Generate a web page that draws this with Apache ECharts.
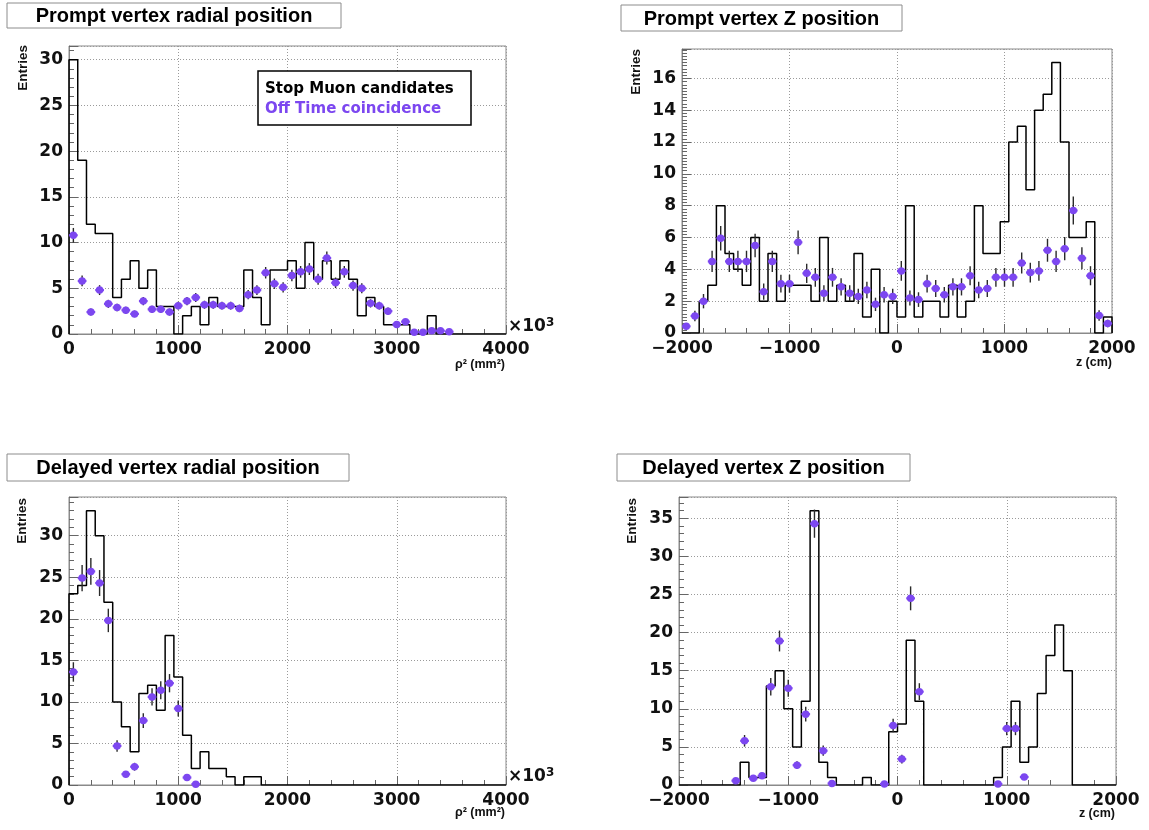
<!DOCTYPE html>
<html><head><meta charset="utf-8">
<script src="https://cdn.jsdelivr.net/npm/echarts@6/dist/echarts.min.js"></script>
<style>html,body{margin:0;padding:0;background:#fff}#c{width:1149px;height:830px}</style>
</head><body><div id="c"></div>
<script>
// ---------------- DATA ----------------
const RHO_BIN_START = 0, RHO_BIN_WIDTH = 80;      // rho^2 (x10^3 mm^2), 50 bins 0..4000
const Z_BIN_START = -2000, Z_BIN_WIDTH = 80;      // z (cm), 50 bins -2000..2000

const titles = ['Prompt vertex radial position', 'Prompt vertex Z position',
                'Delayed vertex radial position', 'Delayed vertex Z position'];
const legendLabels = ['Stop Muon candidates', 'Off Time coincidence'];
const rhoTickLabels = [0, 1000, 2000, 3000, 4000];
const zTickLabels = [-2000, -1000, 0, 1000, 2000];

// Prompt vertex radial position
const promptRhoStopMuon = [30,19,12,11,11,4,6,8,5,7, 3,3,0,2,3,1,4,3,3,3, 7,4,1,7,7,8,5,10,6,8, 6,8,6,2,4,3,1,1,1,0, 0,2,0,0,0,0,0,0,0,0];
const promptRhoOffTime  = [10.8,5.8,2.4,4.8,3.3,2.9,2.6,2.2,3.6,2.7, 2.7,2.4,3.1,3.6,4.0,3.2,3.2,3.1,3.1,2.8, 4.3,4.8,6.7,5.5,5.1,6.4,6.8,7.1,6.0,8.3, 5.6,6.8,5.3,5.0,3.35,3.1,2.5,1.05,1.35,0.2, 0.2,0.36,0.36,0.25,null,null,null,null,null,null];
const promptRhoOffTimeErr = [0.80,0.59,0.38,0.54,0.44,0.42,0.39,0.36,0.46,0.40, 0.40,0.38,0.43,0.46,0.49,0.44,0.44,0.43,0.43,0.41, 0.51,0.54,0.63,0.57,0.55,0.62,0.64,0.65,0.60,0.71, 0.58,0.64,0.56,0.55,0.45,0.43,0.39,0.25,0.28,0.11, 0.11,0.15,0.15,0.12,null,null,null,null,null,null];

// Prompt vertex Z position
const promptZStopMuon = [0,0,2,3,8,5,4,3,6,2, 5,2,3,3,3,2,6,2,3,2, 5,1,4,0,2,1,8,1,2,2, 1,3,1,2,8,5,5,7,12,13, 9,14,15,17,12,6,6,7,0,1];
const promptZOffTime  = [0.42,1.07,2.0,4.5,5.96,4.5,4.5,4.5,5.5,2.6, 4.5,3.1,3.1,5.7,3.75,3.5,2.5,3.5,2.9,2.5, 2.3,2.7,1.8,2.4,2.3,3.9,2.2,2.1,3.1,2.8, 2.4,2.9,2.9,3.6,2.7,2.8,3.5,3.5,3.5,4.4, 3.8,3.9,5.2,4.5,5.3,7.7,4.7,3.6,1.1,0.6];
const promptZOffTimeErr = [0.20,0.33,0.45,0.67,0.77,0.67,0.67,0.67,0.74,0.51, 0.67,0.56,0.56,0.75,0.61,0.59,0.50,0.59,0.54,0.50, 0.48,0.52,0.42,0.49,0.48,0.62,0.47,0.46,0.56,0.53, 0.49,0.54,0.54,0.60,0.52,0.53,0.59,0.59,0.59,0.66, 0.62,0.62,0.72,0.67,0.73,0.88,0.69,0.60,0.33,0.24];

// Delayed vertex radial position
const delayedRhoStopMuon = [23,24,33,30,22,10,7,4,11,12, 9,18,13,6,2,4,2,2,1,0, 1,1,0,0,0,0,0,0,0,0, 0,0,0,0,0,0,0,0,0,0, 0,0,0,0,0,0,0,0,0,0];
const delayedRhoOffTime  = [13.6,24.9,25.7,24.3,19.8,4.7,1.3,2.2,7.75,10.6, 11.4,12.25,9.2,0.9,0.1];
const delayedRhoOffTimeErr = [1.17,1.58,1.60,1.56,1.41,0.69,0.36,0.47,0.88,1.03, 1.07,1.10,0.96,0.30,0.10];

// Delayed vertex Z position
const delayedZStopMuon = [0,0,0,0,0,0,0,3,1,1, 13,15,10,5,11,36,3,1,0,0, 0,1,0,0,7,8,19,11,0,0, 0,0,0,0,0,0,1,5,11,3, 5,12,17,21,15,0,0,0,0,0];
const delayedZOffTime  = [null,null,null,null,null,null,0.57,5.8,0.87,1.2, 12.9,18.9,12.7,2.6,9.3,34.3,4.5,0.2,null,null, null,null,null,0.13,7.8,3.4,24.5,12.25,null,null, null,null,null,null,null,null,0.13,7.4,7.4,1.05];
const delayedZOffTimeErr = [null,null,null,null,null,null,0.24,0.76,0.29,0.35, 1.14,1.37,1.13,0.51,0.96,1.85,0.67,0.14,null,null, null,null,null,0.11,0.88,0.58,1.57,1.11,null,null, null,null,null,null,null,null,0.11,0.86,0.86,0.32];

// ---------------- STYLE / LAYOUT ----------------
const PURPLE = '#7c47f0';
const FRAME = '#8a8a8a';
const grids = [
  {left: 69,  top: 46,  width: 437, height: 288},
  {left: 682, top: 49,  width: 430, height: 284},
  {left: 69,  top: 497, width: 437, height: 288},
  {left: 679, top: 497, width: 437, height: 288}
];
const yMax = [31.5, 17.85, 34.65, 37.8];
const yInterval = [5, 2, 5, 5];
const yMinorSplit = [5, 10, 5, 5];

function stepData(start, width, counts) {
  const d = [[start, 0]];
  counts.forEach((v, i) => { const lo = start + i * width; d.push([lo, v], [lo + width, v]); });
  d.push([start + counts.length * width, 0]);
  return d;
}
function pointData(start, width, vals, errs) {
  const d = [];
  vals.forEach((v, i) => { if (v == null) return; d.push([start + (i + 0.5) * width, v, errs[i], width / 2]); });
  return d;
}
function errRender(params, api) {
  const x = api.value(0), y = api.value(1), e = api.value(2), h = api.value(3);
  const t = api.coord([x, y + e]), b = api.coord([x, Math.max(0, y - e)]);
  const l = api.coord([x - h, y]), r = api.coord([x + h, y]);
  return {type: 'group', children: [
    {type: 'line', shape: {x1: t[0], y1: t[1], x2: b[0], y2: b[1]}, style: {stroke: '#2a2a2a', lineWidth: 1.4}},
    {type: 'line', shape: {x1: l[0], y1: l[1], x2: r[0], y2: r[1]}, style: {stroke: PURPLE, lineWidth: 2.2}}
  ]};
}
const tickFont = {fontFamily: 'DejaVu Sans', fontWeight: 'bold', fontSize: 17, color: '#111'};

function xAxisOpt(gi, ticks) {
  return {
    gridIndex: gi, type: 'value', min: ticks[0], max: ticks[ticks.length - 1], interval: ticks[1] - ticks[0],
    axisLine: {show: true, onZero: false, lineStyle: {color: FRAME, width: 1}},
    axisTick: {show: true, inside: true, length: 9, lineStyle: {color: '#666'}},
    minorTick: {show: true, splitNumber: 5, length: 5, lineStyle: {color: '#666'}},
    splitLine: {show: true, lineStyle: {color: '#9a9a9a', type: [1, 2], width: 1}},
    axisLabel: Object.assign({margin: 7, formatter: v => String(v).replace('-', '\u2212')}, tickFont)
  };
}
function yAxisOpt(gi) {
  return {
    gridIndex: gi, type: 'value', min: 0, max: yMax[gi], interval: yInterval[gi],
    axisLine: {show: true, onZero: false, lineStyle: {color: FRAME, width: 1}},
    axisTick: {show: true, inside: true, length: 9, lineStyle: {color: '#666'}},
    minorTick: {show: true, splitNumber: yMinorSplit[gi], length: 5, lineStyle: {color: '#666'}},
    splitLine: {show: true, lineStyle: {color: '#9a9a9a', type: [1, 2], width: 1}},
    axisLabel: Object.assign({margin: 6, showMaxLabel: false}, tickFont)
  };
}

const panels = [
  {start: RHO_BIN_START, width: RHO_BIN_WIDTH, hist: promptRhoStopMuon, pts: promptRhoOffTime, err: promptRhoOffTimeErr, ticks: rhoTickLabels},
  {start: Z_BIN_START, width: Z_BIN_WIDTH, hist: promptZStopMuon, pts: promptZOffTime, err: promptZOffTimeErr, ticks: zTickLabels},
  {start: RHO_BIN_START, width: RHO_BIN_WIDTH, hist: delayedRhoStopMuon, pts: delayedRhoOffTime, err: delayedRhoOffTimeErr, ticks: rhoTickLabels},
  {start: Z_BIN_START, width: Z_BIN_WIDTH, hist: delayedZStopMuon, pts: delayedZOffTime, err: delayedZOffTimeErr, ticks: zTickLabels}
];

const series = [];
panels.forEach((p, i) => {
  series.push({type: 'line', xAxisIndex: i, yAxisIndex: i, data: stepData(p.start, p.width, p.hist),
    showSymbol: false, lineStyle: {color: '#000', width: 1.5}, z: 3, silent: true});
  const pd = pointData(p.start, p.width, p.pts, p.err);
  series.push({type: 'custom', xAxisIndex: i, yAxisIndex: i, data: pd, renderItem: errRender,
    encode: {x: 0, y: 1}, clip: true, z: 4, silent: true});
  series.push({type: 'scatter', xAxisIndex: i, yAxisIndex: i, data: pd.map(d => [d[0], d[1]]),
    symbol: 'circle', symbolSize: 7.5, itemStyle: {color: PURPLE, opacity: 1}, z: 5, silent: true});
});

// ---------- graphics: titles, legend, axis titles ----------
const titleBoxes = [
  {x: 7, y: 3, w: 334, h: 25},
  {x: 621, y: 5, w: 281, h: 26},
  {x: 7, y: 454, w: 342, h: 27},
  {x: 617, y: 454, w: 293, h: 27}
];
const graphic = [];
titleBoxes.forEach((b, i) => {
  graphic.push({type: 'rect', z: 100, shape: {x: b.x, y: b.y, width: b.w, height: b.h},
    style: {fill: '#fff', stroke: '#8c8c8c', lineWidth: 1}});
  graphic.push({type: 'text', z: 101, x: b.x + b.w / 2, y: b.y + b.h / 2 + 1,
    style: {text: titles[i], fontFamily: 'Liberation Sans', fontWeight: 'bold', fontSize: 20, fill: '#000', align: 'center', verticalAlign: 'middle'}});
});
// legend
graphic.push({type: 'rect', z: 100, shape: {x: 258, y: 71, width: 213, height: 54},
  style: {fill: '#fff', stroke: '#000', lineWidth: 1.5}});
graphic.push({type: 'text', z: 101, x: 265, y: 89, style: {text: legendLabels[0], fontFamily: 'DejaVu Sans', fontWeight: 'bold', fontSize: 15, fill: '#000', align: 'left', verticalAlign: 'middle'}});
graphic.push({type: 'text', z: 101, x: 265, y: 109, style: {text: legendLabels[1], fontFamily: 'DejaVu Sans', fontWeight: 'bold', fontSize: 15, fill: PURPLE, align: 'left', verticalAlign: 'middle'}});
// y titles
[[23, 45], [636, 49], [22.5, 498], [632.5, 498]].forEach(p => {
  graphic.push({type: 'text', z: 101, x: p[0], y: p[1], rotation: Math.PI / 2,
    style: {text: 'Entries', fontFamily: 'Liberation Sans', fontWeight: 'bold', fontSize: 13.5, fill: '#111', align: 'right', verticalAlign: 'middle'}});
});
// x titles
[[505, 365, '\u03C1\u00B2 (mm\u00B2)'], [1112, 363, 'z (cm)'], [505, 813, '\u03C1\u00B2 (mm\u00B2)'], [1115, 814, 'z (cm)']].forEach(p => {
  graphic.push({type: 'text', z: 101, x: p[0], y: p[1],
    style: {text: p[2], fontFamily: 'Liberation Sans', fontWeight: 'bold', fontSize: 12.5, fill: '#111', align: 'right', verticalAlign: 'middle'}});
});
// x10^3 exponent
[[508, 327], [508, 777]].forEach(p => {
  graphic.push({type: 'text', z: 101, x: p[0], y: p[1],
    style: {text: '\u00D710{s|3}', rich: {s: {fontFamily: 'DejaVu Sans', fontWeight: 'bold', fontSize: 12, fill: '#111', padding: [0, 0, 9, 0]}},
      fontFamily: 'DejaVu Sans', fontWeight: 'bold', fontSize: 17, fill: '#111', align: 'left', verticalAlign: 'middle'}});
});

const chart = echarts.init(document.getElementById('c'), null, {renderer: 'canvas'});
chart.setOption({
  backgroundColor: '#fff',
  animation: false,
  grid: grids.map(g => Object.assign({show: true, borderColor: FRAME, borderWidth: 1, backgroundColor: '#fff', containLabel: false, outerBoundsMode: 'none'}, g)),
  xAxis: panels.map((p, i) => xAxisOpt(i, p.ticks)),
  yAxis: panels.map((p, i) => yAxisOpt(i)),
  series: series,
  graphic: graphic
});
</script></body></html>
